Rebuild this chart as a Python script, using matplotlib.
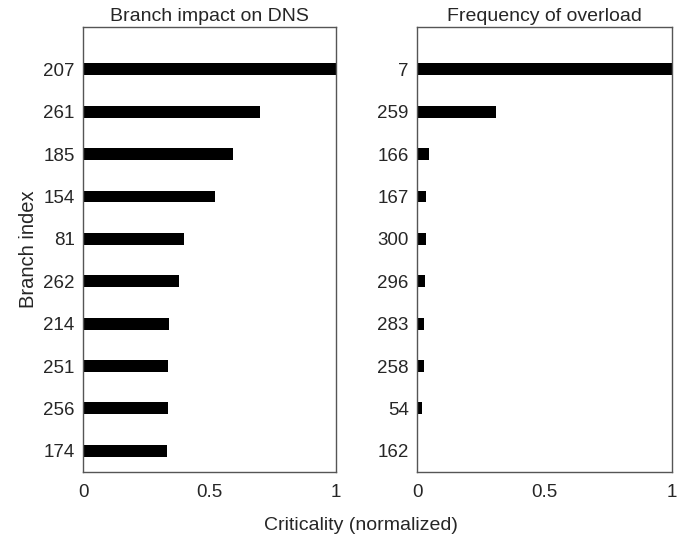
import matplotlib.pyplot as plt

plt.rcParams['font.family'] = ['Liberation Sans', 'DejaVu Sans']

# Branch impact on DNS (top to bottom)
dns_branches = ["207", "261", "185", "154", "81", "262", "214", "251", "256", "174"]
dns_values = [1.0, 0.70, 0.593, 0.52, 0.40, 0.378, 0.34, 0.335, 0.335, 0.33]

# Frequency of overload (top to bottom)
ovl_branches = ["7", "259", "166", "167", "300", "296", "283", "258", "54", "162"]
ovl_values = [1.0, 0.31, 0.047, 0.035, 0.035, 0.03, 0.028, 0.026, 0.018, 0.002]

TEXT = "#262626"
EDGE = "#555555"

fig = plt.figure(figsize=(6.85, 5.45), dpi=100)
ax1 = fig.add_axes([0.1212, 0.134, 0.3693, 0.8165])
ax2 = fig.add_axes([0.6088, 0.134, 0.3723, 0.8165])


def draw(ax, labels, values, title):
    pos = list(range(1, len(values) + 1))
    ax.barh(pos, values, height=0.28, color="black")
    ax.set_yticks(pos)
    ax.set_yticklabels(labels)
    ax.set_ylim(10.5, 0)
    ax.set_xlim(0, 1)
    ax.set_xticks([0, 0.5, 1])
    ax.set_xticklabels(["0", "0.5", "1"])
    ax.tick_params(length=0, labelsize=13.5, colors=TEXT, pad=9)
    ax.tick_params(axis="y", pad=6)
    for s in ax.spines.values():
        s.set_color(EDGE)
        s.set_linewidth(1.0)
    ax.set_title(title, fontsize=14, color=TEXT, pad=4)


draw(ax1, dns_branches, dns_values, "Branch impact on DNS")
draw(ax2, ovl_branches, ovl_values, "Frequency of overload")

ax1.set_ylabel("Branch index", fontsize=14.5, color=TEXT, labelpad=4)
fig.text(0.527, 0.035, "Criticality (normalized)", ha="center", va="center",
         fontsize=14, color=TEXT)

fig.savefig("out.png", dpi=100)
